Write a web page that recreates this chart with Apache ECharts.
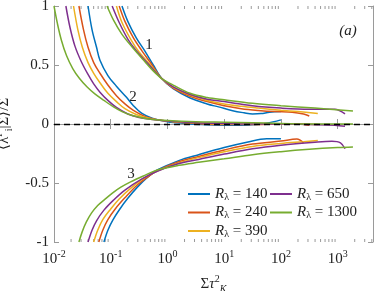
<!DOCTYPE html>
<html><head><meta charset="utf-8">
<script src="https://cdn.jsdelivr.net/npm/echarts@6/dist/echarts.min.js"></script>
<style>html,body{margin:0;padding:0;background:#fff}#c{width:374px;height:291px}</style>
</head><body><div id="c"></div>
<script>
const reynolds = [140, 240, 390, 650, 1300];
const colors = ['#0072BD', '#D95319', '#EDB120', '#7E2F8E', '#77AC30'];

// Curve family 1 (upper)
const c1_140_x = [0.158,0.200,0.282,0.398,0.562,0.794,1.26,2.51,5.01,7.94,14.1,22.4,31.6,44.7,63.1,100];
const c1_140_y = [1.0,0.87,0.73,0.62,0.50,0.385,0.30,0.22,0.17,0.145,0.113,0.095,0.085,0.088,0.10,0.105];
const c1_240_x = [0.141,0.178,0.251,0.355,0.501,0.794,1.26,2.51,5.01,10,20.0,39.8,79.4,158,251,316];
const c1_240_y = [1.0,0.87,0.73,0.62,0.52,0.385,0.305,0.235,0.19,0.155,0.13,0.115,0.105,0.10,0.085,0.068];
const c1_390_x = [0.126,0.158,0.224,0.316,0.501,0.794,1.26,2.51,5.01,10,20.0,39.8,100,200,447];
const c1_390_y = [1.0,0.86,0.72,0.61,0.50,0.385,0.31,0.245,0.20,0.17,0.15,0.135,0.117,0.105,0.09];
const c1_650_x = [0.106,0.141,0.200,0.282,0.447,0.794,1.26,2.51,5.01,10,31.6,100,316,891,1349];
const c1_650_y = [1.0,0.86,0.72,0.62,0.515,0.385,0.315,0.25,0.21,0.19,0.155,0.135,0.125,0.125,0.085];
const c1_1300_x = [0.0861,0.112,0.158,0.251,0.398,0.562,0.794,1.26,2.51,5.01,10,31.6,100,398,1862];
const c1_1300_y = [1.0,0.88,0.76,0.64,0.53,0.45,0.385,0.33,0.26,0.225,0.205,0.175,0.155,0.135,0.11];

// Curve family 2 (middle)
const c2_140_x = [0.0398,0.0468,0.0562,0.0646,0.0891,0.126,0.186,0.251,0.355,0.537,1,2.0,3.98,10,20.0,35.5,56.2,100];
const c2_140_y = [1.0,0.80,0.65,0.54,0.41,0.32,0.23,0.155,0.09,0.05,0.02,0.005,-0.005,-0.01,-0.01,-0.005,0.006,0.035];
const c2_240_x = [0.0275,0.0331,0.0398,0.0501,0.0646,0.0891,0.126,0.178,0.251,0.398,0.708,1.26,3.16,10,31.6,100,200,316];
const c2_240_y = [1.0,0.80,0.65,0.52,0.43,0.33,0.24,0.17,0.115,0.065,0.035,0.02,0.005,-0.005,-0.005,0.0,0.0,-0.01];
const c2_390_x = [0.0221,0.0263,0.0316,0.0398,0.0501,0.0646,0.0891,0.126,0.178,0.282,0.447,0.794,3.16,10,31.6,100,200,447];
const c2_390_y = [1.0,0.80,0.65,0.52,0.43,0.35,0.26,0.19,0.13,0.08,0.05,0.03,0.008,0.0,-0.003,0.0,0.0,-0.005];
const c2_650_x = [0.0162,0.0191,0.0234,0.0302,0.0398,0.0501,0.0646,0.0891,0.126,0.2,0.316,0.501,1,3.16,10,31.6,100,316,891,1349];
const c2_650_y = [1.0,0.82,0.66,0.53,0.42,0.34,0.27,0.20,0.14,0.085,0.055,0.04,0.025,0.01,0.005,0.0,0.0,-0.005,-0.01,-0.02];
const c2_1300_x = [0.01,0.0115,0.0135,0.0166,0.0214,0.0282,0.038,0.0525,0.0759,0.112,0.158,0.251,0.501,1,3.16,10,31.6,100,316,1000,1862];
const c2_1300_y = [1.0,0.85,0.71,0.58,0.47,0.385,0.315,0.255,0.20,0.145,0.105,0.07,0.04,0.03,0.02,0.015,0.01,0.005,0.0,0.0,0.0];

// Curve family 3 (lower)
const c3_140_x = [0.0759,0.0891,0.110,0.145,0.2,0.295,0.447,0.661,1.585,3.548,10,25.1,56.2,100];
const c3_140_y = [-1.0,-0.90,-0.81,-0.72,-0.63,-0.535,-0.45,-0.39,-0.31,-0.26,-0.20,-0.155,-0.125,-0.125];
const c3_240_x = [0.0617,0.0724,0.0891,0.120,0.178,0.282,0.447,0.661,1.585,3.548,10,31.6,100,191,251];
const c3_240_y = [-1.0,-0.90,-0.81,-0.72,-0.625,-0.525,-0.45,-0.395,-0.32,-0.275,-0.22,-0.17,-0.145,-0.128,-0.16];
const c3_390_x = [0.0501,0.0589,0.0724,0.1,0.141,0.224,0.398,0.661,1.585,3.548,10,31.6,100,251,447];
const c3_390_y = [-1.0,-0.90,-0.81,-0.72,-0.635,-0.545,-0.455,-0.398,-0.33,-0.285,-0.235,-0.19,-0.165,-0.15,-0.14];
const c3_650_x = [0.0398,0.0468,0.0562,0.0759,0.112,0.178,0.355,0.661,1.585,3.548,10,31.6,100,398,794,1122,1349];
const c3_650_y = [-1.0,-0.90,-0.82,-0.73,-0.645,-0.56,-0.465,-0.40,-0.335,-0.30,-0.255,-0.21,-0.18,-0.155,-0.147,-0.16,-0.21];
const c3_1300_x = [0.0275,0.0316,0.0372,0.0457,0.0589,0.0759,0.107,0.151,0.224,0.398,0.661,1.585,3.548,10,31.6,100,316,1000,1862];
const c3_1300_y = [-1.0,-0.91,-0.83,-0.755,-0.69,-0.645,-0.585,-0.535,-0.49,-0.435,-0.39,-0.35,-0.325,-0.295,-0.26,-0.235,-0.215,-0.2,-0.195];

// Axis decoration
const xMin = 0.01, xMax = 4200;
const minorTicks = [0.02,0.03,0.04,0.05,0.06,0.07,0.08,0.09,
  0.2,0.3,0.4,0.5,0.6,0.7,0.8,0.9,
  2,3,4,5,6,7,8,9,
  20,30,40,50,60,70,80,90,
  200,300,400,500,600,700,800,900,
  2000,3000,4000];
const curveLabels = ['1', '2', '3'];

const families = [
  [[c1_140_x,c1_140_y],[c1_240_x,c1_240_y],[c1_390_x,c1_390_y],[c1_650_x,c1_650_y],[c1_1300_x,c1_1300_y]],
  [[c2_140_x,c2_140_y],[c2_240_x,c2_240_y],[c2_390_x,c2_390_y],[c2_650_x,c2_650_y],[c2_1300_x,c2_1300_y]],
  [[c3_140_x,c3_140_y],[c3_240_x,c3_240_y],[c3_390_x,c3_390_y],[c3_650_x,c3_650_y],[c3_1300_x,c3_1300_y]]
];

const FONT = 'Liberation Serif';
const AX = '#9a9a9a';
const TXT = '#222';

const series = [];
families.forEach(fam => {
  fam.forEach((xy, i) => {
    series.push({
      type: 'line', name: String(reynolds[i]),
      data: xy[0].map((x, k) => [x, xy[1][k]]),
      symbol: 'none', showSymbol: false, smooth: 0.35, clip: true,
      color: colors[i],
      lineStyle: { width: 1.5, color: colors[i] },
      itemStyle: { color: colors[i] },
      z: 3
    });
  });
});
series.push({
  type: 'line', name: 'zero', data: [], z: 6, silent: true,
  markLine: {
    silent: true, symbol: ['none', 'none'], label: { show: false },
    lineStyle: { type: [6, 4], color: '#000', width: 1.3 },
    data: [{ yAxis: 0 }]
  }
});
series.push({
  type: 'custom', name: 'minor', silent: true, z: 2, clip: false,
  data: minorTicks.map(v => [v, 0]),
  renderItem: (params, api) => {
    const p = api.coord([api.value(0), 0]);
    const cs = params.coordSys;
    const b = cs.y + cs.height;
    return { type: 'group', children: [
      { type: 'line', shape: { x1: p[0], y1: b, x2: p[0], y2: b - 3 }, style: { stroke: AX, lineWidth: 1 } },
      { type: 'line', shape: { x1: p[0], y1: cs.y, x2: p[0], y2: cs.y + 3 }, style: { stroke: AX, lineWidth: 1 } }
    ]};
  }
});

const supRich = {
  sup: { fontFamily: FONT, fontSize: 10, lineHeight: 10, verticalAlign: 'top', color: TXT },
  sub: { fontFamily: FONT, fontSize: 10, lineHeight: 10, verticalAlign: 'bottom', color: TXT },
  subi: { fontFamily: FONT, fontSize: 10, lineHeight: 10, verticalAlign: 'bottom', fontStyle: 'italic', color: TXT },
  it: { fontFamily: FONT, fontSize: 15, lineHeight: 20, fontStyle: 'italic', color: TXT }
};

const chart = echarts.init(document.getElementById('c'), null, { renderer: 'canvas' });
chart.setOption({
  animation: false,
  backgroundColor: '#fff',
  grid: { left: 54, right: 1, top: 6, bottom: 49, outerBoundsMode: 'none', containLabel: false },
  legend: {
    data: reynolds.map(String), orient: 'vertical', left: 183, top: 181, height: 56,
    icon: 'rect', itemWidth: 22, itemHeight: 2, itemGap: 2.5,
    textStyle: { fontFamily: FONT, fontSize: 15, color: TXT, lineHeight: 16,
      rich: {
        r: { fontFamily: FONT, fontSize: 15, fontStyle: 'italic', lineHeight: 16, color: TXT },
        s: { fontFamily: FONT, fontSize: 10, lineHeight: 8, verticalAlign: 'bottom', color: TXT },
        t: { fontFamily: FONT, fontSize: 15, lineHeight: 16, color: TXT }
      } },
    formatter: name => '{r|R}{s|λ}{t| = ' + name + '}'
  },
  xAxis: [{
    type: 'log', logBase: 10, min: xMin, max: xMax, position: 'bottom',
    axisLine: { lineStyle: { color: AX, width: 1 } },
    axisTick: { inside: true, length: 5, lineStyle: { color: AX } },
    splitLine: { show: false },
    axisLabel: {
      margin: 7, color: TXT, fontFamily: FONT, fontSize: 15, lineHeight: 20, showMaxLabel: false,
      formatter: v => {
        const l = Math.log10(v), e = Math.round(l);
        if (Math.abs(l - e) > 1e-6) return '';
        return '10{sup|' + e + '}';
      },
      rich: supRich
    },
    name: 'Σ{it|τ}{sup|2}{subi|K}', nameLocation: 'middle', nameGap: 29,
    nameTextStyle: { fontFamily: FONT, fontSize: 15, color: TXT, lineHeight: 20, rich: supRich }
  }, {
    type: 'log', logBase: 10, min: xMin, max: xMax, position: 'top',
    axisLine: { lineStyle: { color: AX, width: 1 } },
    axisTick: { inside: true, length: 5, lineStyle: { color: AX } },
    axisLabel: { show: false }, splitLine: { show: false }
  }],
  yAxis: [{
    type: 'value', min: -1, max: 1, interval: 0.5, position: 'left',
    axisLine: { show: true, lineStyle: { color: AX, width: 1 } },
    axisTick: { show: true, inside: true, length: 5, lineStyle: { color: AX } },
    splitLine: { show: false },
    axisLabel: { margin: 5, color: TXT, fontFamily: FONT, fontSize: 15, formatter: v => String(v) },
    name: '⟨λ{sup|P}{sub|i}|Σ⟩/Σ', nameLocation: 'middle', nameGap: 31, nameRotate: 90,
    nameTextStyle: { fontFamily: FONT, fontSize: 15, color: TXT, lineHeight: 20, rich: supRich }
  }, {
    type: 'value', min: -1, max: 1, interval: 0.5, position: 'right',
    axisLine: { show: true, lineStyle: { color: AX, width: 1 } },
    axisTick: { show: true, inside: true, length: 5, lineStyle: { color: AX } },
    axisLabel: { show: false }, splitLine: { show: false }
  }],
  graphic: [
    { type: 'text', x: 149, y: 45, style: { text: curveLabels[0], font: '15px "Liberation Serif"', fill: TXT, textAlign: 'center', textVerticalAlign: 'middle' } },
    { type: 'text', x: 133, y: 97, style: { text: curveLabels[1], font: '15px "Liberation Serif"', fill: TXT, textAlign: 'center', textVerticalAlign: 'middle' } },
    { type: 'text', x: 131, y: 174, style: { text: curveLabels[2], font: '15px "Liberation Serif"', fill: TXT, textAlign: 'center', textVerticalAlign: 'middle' } },
    { type: 'text', x: 348, y: 31, style: { text: '(a)', font: 'italic 15px "Liberation Serif"', fill: TXT, textAlign: 'center', textVerticalAlign: 'middle' } }
  ],
  series: series
});
</script></body></html>
